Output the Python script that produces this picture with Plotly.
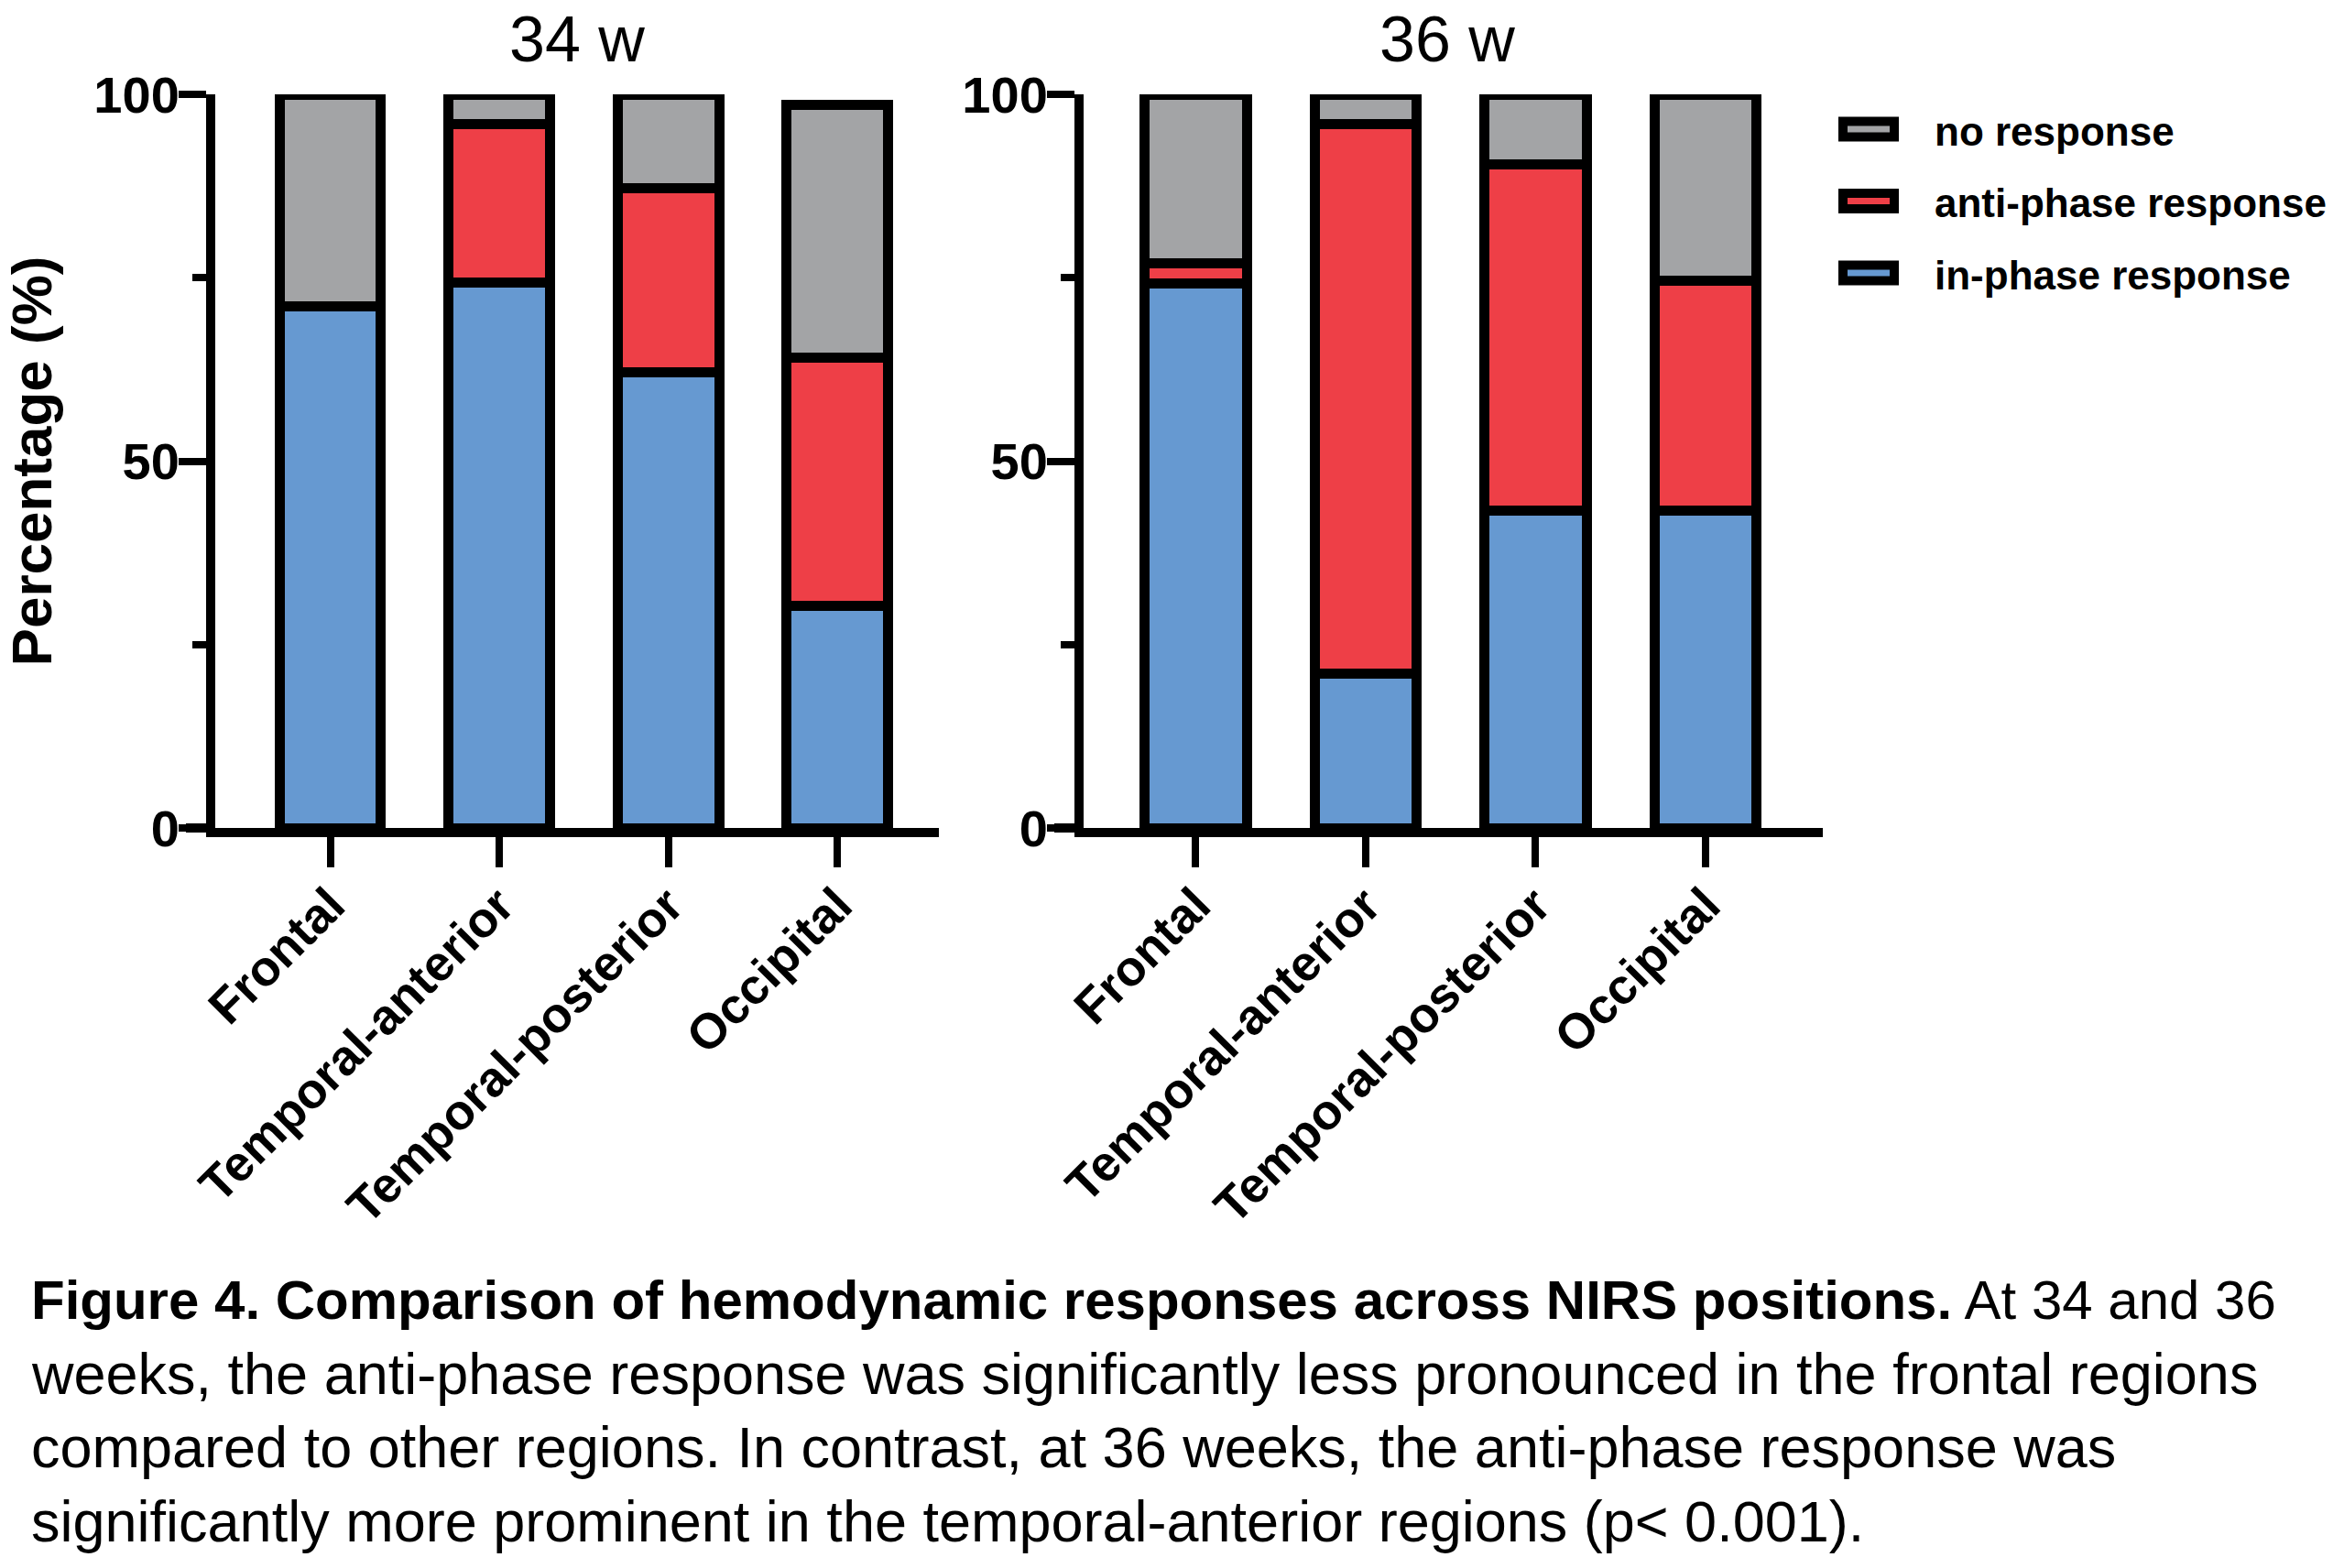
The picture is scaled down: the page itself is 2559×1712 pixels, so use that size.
import plotly.graph_objects as go

# ---------------- data ----------------
categories = ["Frontal", "Temporal-anterior", "Temporal-posterior", "Occipital"]
series_names = ["in-phase response", "anti-phase response", "no response"]
in_phase_34 = [71.1, 74.3, 62.1, 30.3]
anti_phase_34 = [0.0, 21.7, 25.1, 33.8]
no_response_34 = [28.9, 4.0, 12.8, 34.5]
in_phase_36 = [74.2, 21.0, 43.3, 43.3]
anti_phase_36 = [2.8, 75.0, 47.1, 31.3]
no_response_36 = [23.0, 4.0, 9.6, 25.4]
panel_titles = ["34 w", "36 w"]
y_tick_vals = [0, 50, 100]
legend_order = ["no response", "anti-phase response", "in-phase response"]
caption_lines = [
    "<b>Figure 4. Comparison of hemodynamic responses across NIRS positions.</b> At 34 and 36",
    "weeks, the anti-phase response was significantly less pronounced in the frontal regions",
    "compared to other regions. In contrast, at 36 weeks, the anti-phase response was",
    "significantly more prominent in the temporal-anterior regions (p< 0.001).",
]

# ---------------- style ----------------
W, H = 2559, 1712
FONT = "Liberation Sans, Arial, sans-serif"
colors = {"in-phase response": "#6699D1",
          "anti-phase response": "#EE3F47",
          "no response": "#A3A4A6"}


def px_x(x):
    return x / W


def px_y(y):
    return 1 - y / H


fig = go.Figure()

panels = [
    (in_phase_34, anti_phase_34, no_response_34, "x", "y"),
    (in_phase_36, anti_phase_36, no_response_36, "x2", "y2"),
]
for vin, vanti, vnone, xa, ya in panels:
    for name, vals in zip(series_names, [vin, vanti, vnone]):
        fig.add_trace(go.Bar(
            x=categories, y=vals, name=name, xaxis=xa, yaxis=ya,
            marker=dict(color=colors[name], line=dict(color="black", width=11)),
            width=0.6, showlegend=False, cliponaxis=False,
        ))

# plot-area pixel geometry
y_top, y_bot = 103, 904
left_area = (235, 1025)
right_area = (1183, 1990)

axis_common = dict(
    showline=True, linecolor="black", linewidth=10, showgrid=False, zeroline=False,
    ticks="outside", tickcolor="black", automargin=False,
)
ytick_font = dict(size=56, weight="bold", family=FONT)
xtick_font = dict(size=54, weight="bold", family=FONT)
minor_y = dict(dtick=25, ticklen=15, tickwidth=8, ticks="outside", tickcolor="black")

fig.update_layout(
    width=W, height=H,
    margin=dict(l=0, r=0, t=0, b=0, autoexpand=False),
    paper_bgcolor="white", plot_bgcolor="white",
    barmode="stack",
    showlegend=False,
    font=dict(family=FONT, color="black"),
    xaxis=dict(domain=[px_x(left_area[0]), px_x(left_area[1])], anchor="y",
               range=[-0.68, 3.60], ticklen=33, tickwidth=8, ticklabelstandoff=-12,
               tickangle=-45, tickfont=xtick_font, **axis_common),
    yaxis=dict(domain=[px_y(y_bot), px_y(y_top)], anchor="x",
               range=[0, 100], tickvals=y_tick_vals, ticklen=30, tickwidth=8,
               ticklabelstandoff=-12,
               minor=minor_y, tickfont=ytick_font,
               title=dict(text="Percentage (%)", font=dict(size=62, weight="bold", family=FONT),
                          standoff=30),
               **axis_common),
    xaxis2=dict(domain=[px_x(right_area[0]), px_x(right_area[1])], anchor="y2",
                range=[-0.66, 3.69], ticklen=33, tickwidth=8, ticklabelstandoff=-12,
                tickangle=-45, tickfont=xtick_font, **axis_common),
    yaxis2=dict(domain=[px_y(y_bot), px_y(y_top)], anchor="x2",
                range=[0, 100], tickvals=y_tick_vals, ticklen=30, tickwidth=8,
                ticklabelstandoff=-12,
                minor=minor_y, tickfont=ytick_font, **axis_common),
)

# x-axis line extensions to the left of the y axes (Prism style)
for x0, x1 in [(203, 235), (1151, 1183)]:
    fig.add_shape(type="line", xref="paper", yref="paper",
                  x0=px_x(x0), x1=px_x(x1), y0=px_y(y_bot), y1=px_y(y_bot),
                  line=dict(color="black", width=10))

# panel titles
for title, cx in zip(panel_titles, [630, 1580]):
    fig.add_annotation(text=title, xref="paper", yref="paper",
                       x=px_x(cx), y=px_y(43), xanchor="center", yanchor="middle",
                       showarrow=False, font=dict(size=70, family=FONT))

# legend (drawn as swatches + text)
for i, name in enumerate(legend_order):
    cy = 141 + i * 78.5
    fig.add_shape(type="rect", xref="paper", yref="paper",
                  x0=px_x(2012), x1=px_x(2068), y0=px_y(cy - 8.5), y1=px_y(cy + 8.5),
                  fillcolor=colors[name], line=dict(color="black", width=10))
    fig.add_annotation(text=f"<b>{name}</b>", xref="paper", yref="paper",
                       x=px_x(2110), y=px_y(cy + 2), xanchor="left", yanchor="middle",
                       showarrow=False, font=dict(size=44, family=FONT))

# caption
caption_sizes = [60, 63, 63, 63]
for i, (line, fs) in enumerate(zip(caption_lines, caption_sizes)):
    fig.add_annotation(text=line, xref="paper", yref="paper",
                       x=px_x(32), y=px_y(1419 + i * 80.5), xanchor="left", yanchor="middle",
                       showarrow=False, align="left", font=dict(size=fs, family=FONT))

fig.write_html("out.html")
